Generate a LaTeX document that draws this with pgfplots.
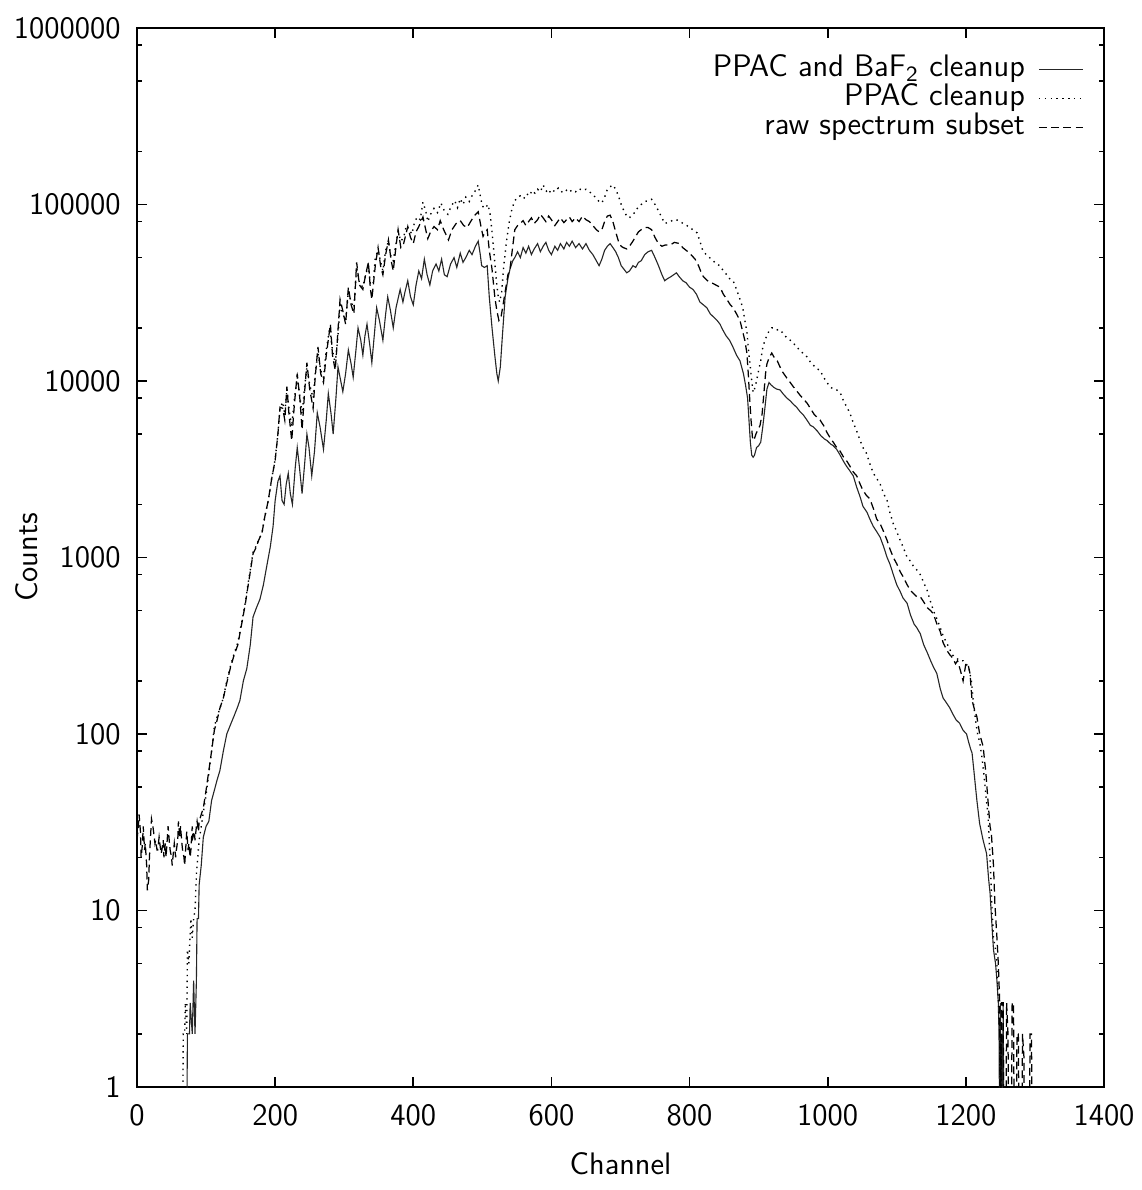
\documentclass[border=0pt]{standalone}
\usepackage{pgfplots}
\pgfplotsset{compat=1.18}
\renewcommand{\familydefault}{\sfdefault}
\begin{document}
\fontsize{11.2}{13.4}\selectfont
\begin{tikzpicture}
\useasboundingbox (-49.32pt,-37.08pt) rectangle (361.44pt,391.32pt);
\begin{axis}[
  scale only axis, width=348.12pt, height=381.24pt,
  at={(0pt,0pt)}, anchor=south west,
  xmin=0, xmax=1400, ymin=1, ymax=1000000, ymode=log,
  xtick={0,200,...,1400}, minor x tick num=0, scaled x ticks=false,
  ytick={1,10,100,1000,10000,100000,1000000},
  yticklabels={1,10,100,1000,10000,100000,1000000},
  minor ytick={2,5,8,20,50,80,200,500,800,2000,5000,8000,20000,50000,80000,200000,500000,800000},
  /pgf/number format/1000 sep={},
  /pgf/number format/assume math mode=true,
  yticklabel style={xshift=-2pt},
  xticklabel style={yshift=-2.5pt},
  tick align=inside,
  major tick length=3.6pt, minor tick length=1.8pt,
  axis line style={line width=0.6pt},
  every tick/.style={line width=0.6pt, black},
  xlabel={Channel}, ylabel={Counts},
  every axis x label/.style={at={(axis description cs:0.5,-0.0727)}, anchor=center},
  every axis y label/.style={at={(axis description cs:-0.1138,0.5)}, rotate=90, anchor=center},
  legend style={at={(axis description cs:0.980,0.975)}, anchor=north east, draw=none, fill=none,
    inner sep=0pt, row sep=0pt,
    nodes={inner sep=0.3pt, text height=7.6pt, text depth=2.2pt}},
  legend cell align=right,
  legend plot pos=right,
  legend image code/.code={\path (0pt,0pt); \draw[#1] (4.5pt,0pt) -- (20.5pt,0pt);},
  clip=true,
]
% PPAC and BaF2 cleanup (solid)
\addplot[black!85, line width=0.4pt] coordinates {
(72,0.5)(73,2)(76,2)(77,3)(80,2)(82,4)(84,2)(86,4)(87,9)(89,9)(90,14)(93,18)(96,26)(100,30)(104,32)(108,42)(112,48)(116,55)(120,62)(125,80)(130,100)(135,112)(140,125)(145,140)(149,155)(154,200)(159,235)(164,320)(168,460)(173,520)(178,580)(183,700)(188,900)(193,1150)(197,1500)(200,2100)(204,2700)(207,2900)(210,2100)(213,2000)(216,2600)(219,3000)(222,2300)(225,2000)(229,3200)(232,4200)(235,3300)(239,2300)(243,3500)(246,5000)(249,4200)(253,2900)(257,4000)(261,6600)(265,5500)(270,4100)(274,6000)(277,8500)(281,6500)(284,5000)(288,8000)(291,12000)(295,10000)(298,8700)(302,11000)(306,15000)(310,12500)(313,10500)(317,15000)(320,20000)(324,17000)(327,14000)(330,18000)(333,21000)(337,16000)(340,12700)(344,19000)(347,26000)(351,22000)(356,17000)(360,24000)(363,30000)(367,25000)(371,20000)(375,26000)(381,33000)(385,28000)(388,32000)(392,37000)(396,30000)(400,27000)(404,35000)(408,42000)(412,38000)(416,49000)(420,40000)(424,35000)(428,42000)(433,46000)(437,42000)(441,49000)(445,40000)(449,39000)(454,46000)(459,50000)(463,44000)(468,53000)(472,47000)(476,50000)(481,55000)(485,52000)(490,58000)(494,62000)(497,52000)(499,45000)(503,44000)(507,45000)(510,30000)(514,20000)(518,14000)(521,11000)(523,10000)(526,12000)(529,18000)(533,30000)(537,38000)(540,43000)(544,48000)(547,50000)(551,54000)(555,50000)(559,57000)(563,53000)(567,58000)(571,52000)(575,56000)(580,60000)(584,54000)(588,58000)(592,61000)(596,55000)(600,52000)(605,58000)(609,55000)(613,60000)(618,56000)(622,61000)(626,58000)(630,62000)(635,57000)(640,60000)(645,56000)(650,60000)(655,55000)(660,52000)(665,48000)(669,45000)(673,49000)(677,55000)(681,58000)(685,60000)(689,57000)(693,54000)(697,50000)(701,45000)(705,43000)(709,41000)(713,42000)(718,45000)(722,44000)(726,47000)(730,48000)(735,52000)(740,54000)(745,55000)(750,50000)(755,45000)(760,40000)(764,37000)(768,38000)(773,39000)(777,40000)(781,41000)(785,39000)(790,37000)(795,36000)(800,34000)(805,33000)(810,31000)(815,28000)(820,27000)(825,26000)(830,24000)(835,23000)(840,22000)(844,21000)(848,19500)(853,18000)(858,17000)(863,15500)(868,14000)(873,13000)(878,11000)(881,9500)(884,8000)(886,6000)(888,4500)(890,3800)(892,3700)(894,3800)(897,4200)(900,4300)(903,4500)(906,5500)(909,7000)(912,9000)(915,9800)(918,9500)(922,9200)(926,9000)(931,8900)(936,8400)(941,8000)(946,7700)(950,7400)(955,7100)(960,6700)(965,6400)(970,6000)(975,5600)(979,5500)(985,5200)(990,4900)(995,4700)(999,4600)(1004,4400)(1008,4300)(1013,4100)(1018,3800)(1023,3500)(1027,3300)(1032,3100)(1037,2900)(1042,2500)(1047,2200)(1051,1950)(1057,1800)(1061,1650)(1066,1500)(1071,1400)(1076,1300)(1081,1150)(1086,1000)(1090,920)(1095,800)(1100,700)(1105,640)(1109,590)(1115,550)(1120,470)(1125,420)(1129,400)(1134,370)(1139,320)(1144,290)(1149,260)(1153,240)(1158,220)(1163,180)(1167,160)(1172,150)(1177,140)(1181,130)(1186,120)(1191,115)(1196,105)(1201,100)(1204,90)(1207,82)(1209,78)(1212,60)(1214,50)(1216,42)(1218,36)(1220,31)(1225,25)(1230,21)(1233,15)(1235,12.6)(1238,8)(1240,6)(1243,5)(1245,4)(1247,3)(1248,2)(1249,0.5)(1250,3)(1251,0.5)(1252,2)(1253,0.5)(1254,3)(1255,0.5)
};
\addlegendentry{PPAC and BaF\textsubscript{2} cleanup}
% PPAC cleanup (dotted)
\addplot[black, line width=0.5pt, dash pattern=on 0.5pt off 1.6pt] coordinates {
(66,0.5)(67,2)(69,2)(70,3)(72,2)(73,6)(75,5)(76,6)(78,9)(80,7)(82,9)(84,10)(86,16)(88,20)(90,25)(93,30)(96,36)(100,45)(104,60)(108,80)(112,110)(116,125)(120,140)(125,160)(130,200)(135,240)(140,280)(146,330)(150,400)(153,460)(157,560)(160,680)(164,850)(168,1070)(172,1150)(176,1250)(181,1380)(185,1700)(190,2100)(195,2800)(200,3600)(204,5000)(207,7000)(211,7600)(214,6500)(217,9000)(220,7000)(224,5500)(228,8000)(232,10500)(236,8000)(239,6500)(243,9500)(246,12000)(250,9500)(255,8000)(258,11000)(262,14500)(266,11500)(270,10500)(274,15000)(279,20000)(283,15000)(287,12500)(291,18000)(294,27000)(298,24000)(302,22000)(306,32000)(310,28000)(314,26000)(318,44000)(322,36000)(327,34000)(331,40000)(335,45000)(338,35000)(342,36000)(345,50000)(349,55000)(353,47000)(356,42000)(360,55000)(364,62000)(368,50000)(371,48000)(375,60000)(378,70000)(382,62000)(386,65000)(390,76000)(394,72000)(398,68000)(402,80000)(406,85000)(410,82000)(414,103000)(418,92000)(421,80000)(425,88000)(430,95000)(435,90000)(440,102000)(445,92000)(450,88000)(455,98000)(460,105000)(464,96000)(468,108000)(472,100000)(476,110000)(481,104000)(485,112000)(490,120000)(494,129000)(497,112000)(500,98000)(504,95000)(508,100000)(511,90000)(514,70000)(517,52000)(520,38000)(523,30000)(525,28000)(528,32000)(531,45000)(535,62000)(539,80000)(543,95000)(547,105000)(551,110000)(555,112000)(560,108000)(564,115000)(568,112000)(572,120000)(576,116000)(580,122000)(584,118000)(588,129000)(592,120000)(596,115000)(600,122000)(605,118000)(610,124000)(615,118000)(620,122000)(625,117000)(630,121000)(635,118000)(640,123000)(645,120000)(650,122000)(655,118000)(660,114000)(665,108000)(669,104000)(673,102000)(677,110000)(681,122000)(685,126000)(689,129000)(693,122000)(697,112000)(701,100000)(705,92000)(709,86000)(713,84000)(717,88000)(721,90000)(725,96000)(730,100000)(735,104000)(740,105000)(745,107000)(750,100000)(755,92000)(760,84000)(764,78000)(768,79000)(772,80000)(777,82000)(781,82000)(786,80000)(791,78000)(796,76000)(801,74000)(806,71000)(811,69000)(815,62000)(819,55000)(824,52000)(829,50000)(834,48000)(839,46000)(844,45000)(849,42000)(854,40000)(858,38000)(863,37000)(868,33000)(873,29000)(877,26000)(880,22000)(883,19000)(886,14000)(888,12000)(890,10000)(892,8600)(894,9000)(897,10000)(900,11500)(903,13000)(906,15500)(909,17000)(913,18500)(916,19500)(919,20000)(923,20000)(927,19500)(931,19500)(936,18500)(941,17500)(946,17000)(950,16500)(955,15500)(960,15000)(965,14200)(970,13700)(975,12800)(980,12200)(985,11700)(989,11500)(994,10500)(999,9800)(1003,9300)(1008,9000)(1013,8900)(1018,8600)(1023,7700)(1027,7200)(1032,6600)(1037,5800)(1042,5200)(1047,4600)(1051,4200)(1056,3900)(1061,3400)(1066,3000)(1071,2800)(1076,2600)(1081,2300)(1086,2100)(1090,1800)(1095,1550)(1100,1400)(1105,1250)(1109,1150)(1115,1000)(1120,950)(1125,880)(1129,850)(1134,800)(1139,720)(1144,650)(1149,560)(1153,500)(1158,450)(1163,400)(1167,360)(1172,330)(1177,300)(1181,280)(1186,270)(1191,260)(1196,260)(1200,250)(1204,240)(1208,200)(1211,150)(1214,120)(1217,100)(1220,90)(1223,75)(1226,60)(1229,45)(1232,35)(1235,20)(1238,10)(1240,7)(1243,6)(1245,5)(1247,3)(1249,2)(1250,0.5)(1251,2)(1252,0.5)
};
\addlegendentry{PPAC cleanup}
% raw spectrum subset (dashed)
\addplot[black, line width=0.45pt, dash pattern=on 2.8pt off 1.6pt] coordinates {
(0,25)(2,30)(3,35)(5,28)(6,20)(8,24)(9,30)(11,22)(12,24)(14,18)(15,13)(17,15)(18,20)(20,28)(21,33)(23,30)(24,28)(26,24)(27,25)(29,22)(30,22)(32,26)(33,24)(35,21)(36,22)(38,25)(39,20)(41,24)(42,20)(44,26)(45,30)(47,24)(48,22)(50,20)(51,18)(53,22)(54,24)(56,20)(57,22)(59,25)(60,32)(62,26)(63,30)(65,24)(66,22)(68,20)(69,18)(71,24)(72,28)(74,22)(75,24)(77,20)(78,22)(80,30)(81,26)(83,28)(84,25)(86,30)(87,32)(89,28)(90,32)(93,35)(96,38)(100,48)(104,62)(108,80)(112,105)(116,120)(120,140)(125,160)(130,195)(135,235)(140,275)(146,320)(150,390)(153,450)(157,550)(160,660)(164,830)(168,1050)(172,1130)(176,1250)(181,1380)(185,1700)(190,2100)(195,2800)(200,3550)(204,5000)(207,7100)(211,7000)(214,6000)(217,9300)(220,6500)(224,4600)(228,7500)(232,11000)(236,7800)(239,5300)(243,9000)(246,12700)(250,9000)(255,7000)(258,10500)(262,15600)(266,11000)(270,9800)(274,14000)(280,21000)(283,14000)(287,11500)(290,17000)(294,29000)(298,25000)(302,21000)(306,34000)(310,27000)(314,24000)(318,47000)(322,35000)(327,33000)(331,40000)(335,47000)(338,33000)(340,29000)(345,45000)(349,57000)(353,44000)(356,40000)(360,52000)(364,63000)(368,48000)(371,42000)(375,58000)(378,72000)(382,57000)(386,60000)(392,75000)(396,65000)(400,60000)(404,70000)(408,75000)(414,85000)(418,72000)(421,64000)(425,70000)(430,75000)(435,72000)(439,81000)(444,72000)(451,63000)(456,72000)(462,78000)(468,81000)(473,76000)(478,74000)(483,80000)(488,86000)(494,91000)(498,75000)(501,66000)(504,70000)(507,72000)(510,55000)(514,43000)(518,30000)(521,25000)(524,22000)(527,23000)(530,27000)(533,32000)(537,40000)(540,43000)(544,58000)(547,72000)(551,76000)(555,78000)(559,81000)(563,76000)(567,80000)(571,84000)(575,78000)(580,82000)(584,88000)(588,84000)(592,80000)(596,86000)(600,82000)(605,76000)(609,80000)(613,84000)(618,79000)(622,82000)(626,85000)(630,80000)(635,84000)(640,80000)(645,86000)(650,82000)(655,80000)(660,76000)(665,72000)(669,70000)(673,72000)(677,80000)(681,86000)(685,87000)(689,80000)(693,70000)(697,62000)(701,58000)(704,57000)(709,56000)(713,58000)(718,62000)(722,66000)(726,70000)(730,72000)(735,74000)(740,74000)(745,72000)(750,65000)(755,60000)(760,58000)(765,59000)(772,59000)(778,61000)(786,60000)(790,57000)(795,55000)(800,53000)(804,51000)(808,49000)(813,45000)(817,41000)(820,39000)(826,37000)(832,36000)(838,35000)(844,34000)(849,31000)(854,29000)(859,27000)(863,26000)(868,24000)(873,22000)(877,19000)(880,17000)(883,14400)(885,11000)(887,8000)(889,6000)(891,4800)(893,4600)(896,5000)(899,5300)(902,5600)(905,6500)(907,8000)(910,11000)(912,12500)(915,13500)(919,14400)(923,13500)(927,13000)(931,12000)(935,11200)(940,10500)(945,9900)(950,9300)(955,8800)(960,8300)(965,7900)(970,7500)(975,7000)(980,6500)(985,6200)(989,6000)(994,5600)(999,5100)(1003,4800)(1008,4500)(1013,4200)(1018,4000)(1023,3700)(1028,3500)(1032,3300)(1037,3050)(1042,2900)(1047,2600)(1051,2400)(1056,2250)(1061,2150)(1066,1900)(1071,1650)(1076,1550)(1081,1400)(1086,1250)(1090,1120)(1095,1000)(1100,920)(1105,830)(1109,780)(1115,700)(1120,650)(1125,620)(1129,600)(1134,600)(1139,560)(1144,520)(1149,500)(1153,480)(1158,420)(1163,380)(1167,330)(1172,300)(1177,280)(1181,270)(1185,250)(1188,260)(1192,230)(1196,200)(1200,250)(1203,250)(1206,220)(1209,155)(1212,140)(1216,125)(1220,100)(1225,85)(1229,60)(1232,42)(1235,30)(1237,27)(1240,18)(1242,11)(1245,7)(1247,5)(1249,3)(1250,0.5)(1252,3)(1254,3)(1255,0.5)(1258,0.5)(1259,3)(1261,2)(1262,0.5)(1266,0.5)(1267,3)(1269,3)(1270,0.5)(1273,0.5)(1274,2)(1276,2)(1277,0.5)(1281,0.5)(1282,2)(1284,1.5)(1285,0.5)(1292,0.5)(1293,2)(1295,2)(1296,0.5)
};
\addlegendentry{raw spectrum subset}
\end{axis}
\end{tikzpicture}
\end{document}
